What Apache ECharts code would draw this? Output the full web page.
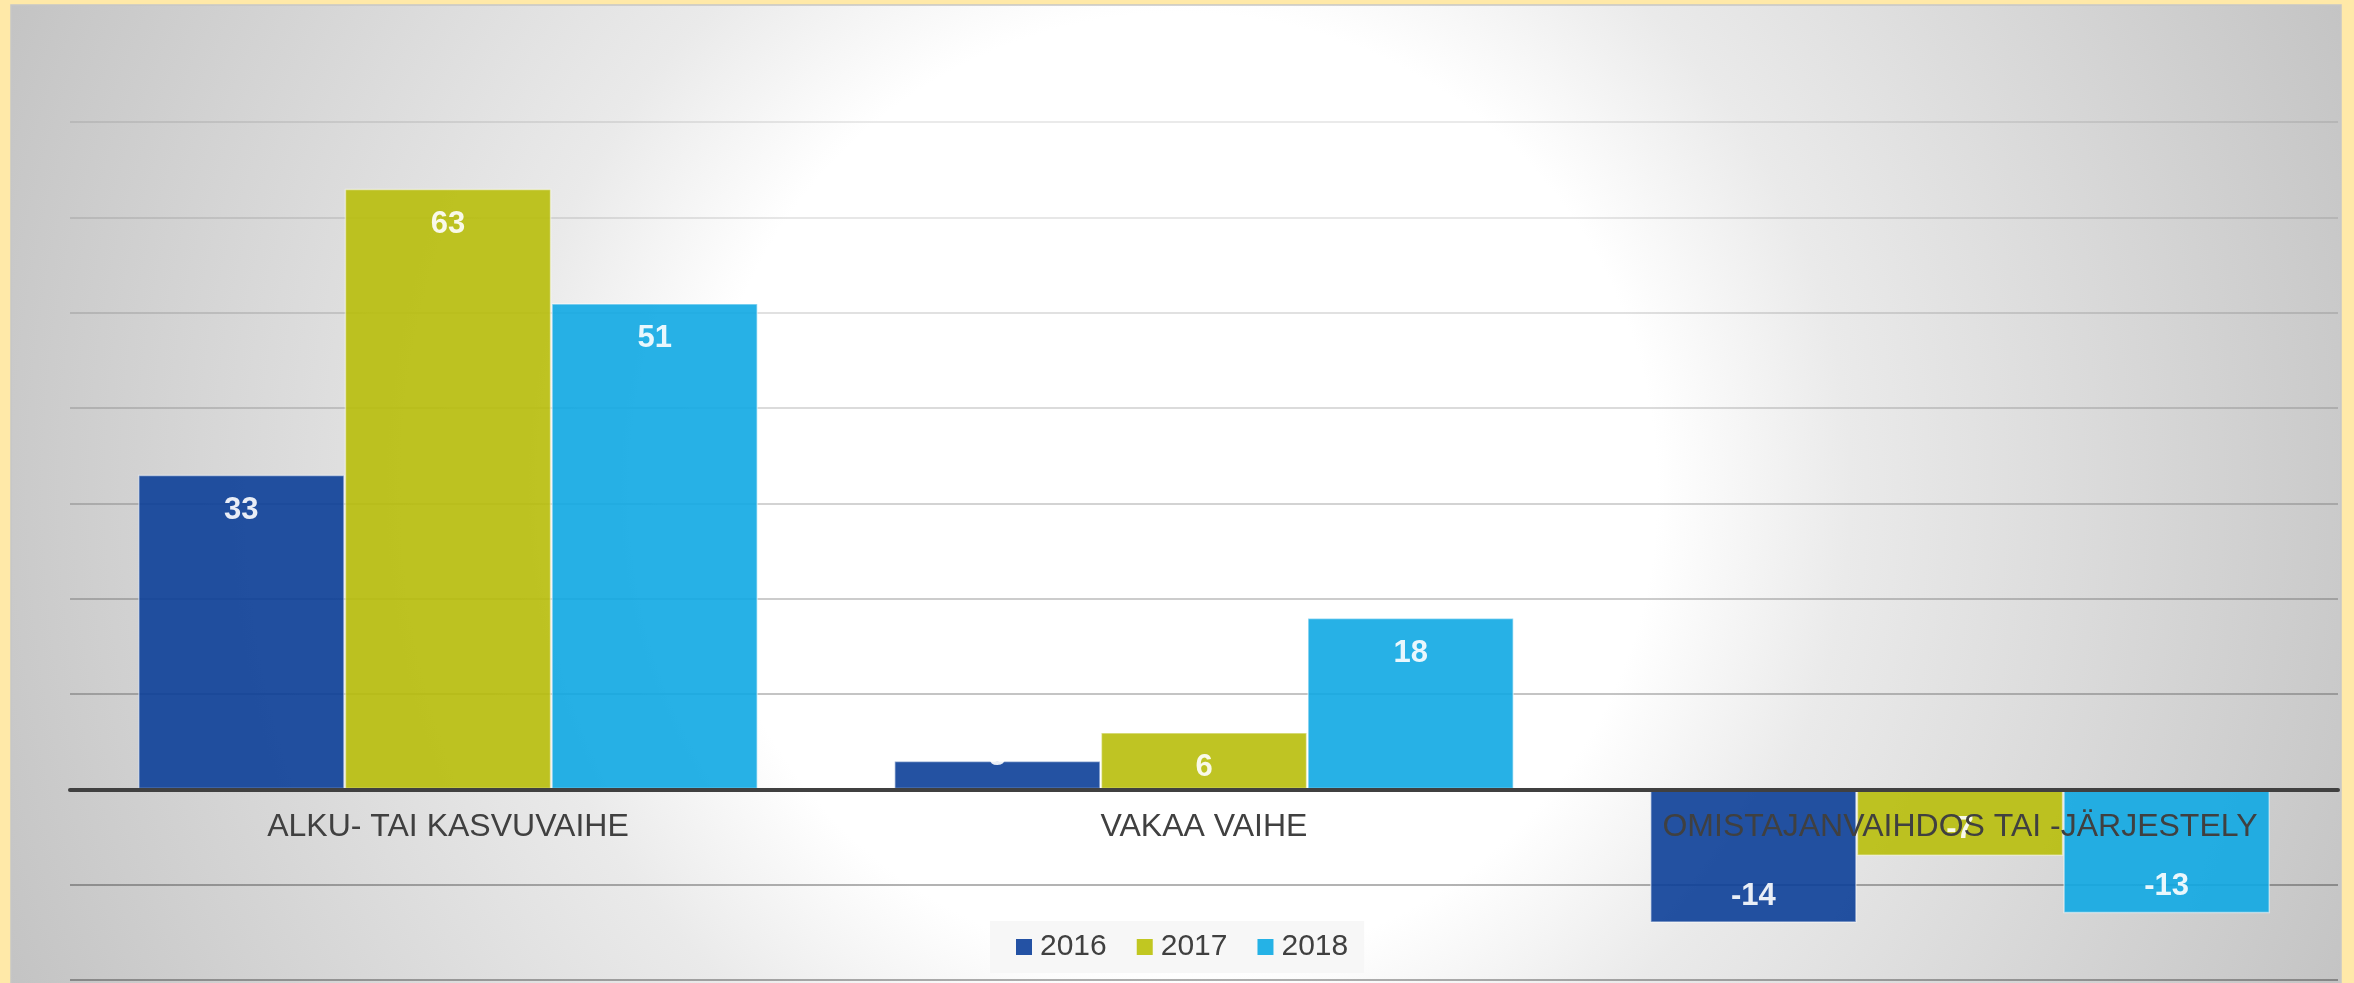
<!DOCTYPE html>
<html>
<head>
<meta charset="utf-8">
<style>
  html, body { margin: 0; padding: 0; background: #FFE9A8; }
  #chart { width: 2354px; height: 983px; }
</style>
<script src="https://cdn.jsdelivr.net/npm/echarts@6/dist/echarts.min.js"></script>
</head>
<body>
<div id="chart"></div>
<script>
const categories = ['ALKU- TAI KASVUVAIHE', 'VAKAA VAIHE', 'OMISTAJANVAIHDOS TAI -JÄRJESTELY'];
const seriesNames = ['2016', '2017', '2018'];
const values2016 = [33, 3, -14];
const values2017 = [63, 6, -7];
const values2018 = [51, 18, -13];
const yMin = -20, yMax = 70, yStep = 10;

const FONT = "'Liberation Sans', Arial, sans-serif";
const barBase = ['#0C3F98', '#B8BE0B', '#0FA8E3'];
const legendColors = ['#2452A4', '#C1C721', '#25B2E6'];
const gridAlphas = [0.42, 0.40, 0.36, 0.31, 0.27, 0.23, 0.19, 0.16, 0.13, 0.11];

const W = 2354, H = 983;
const gridTop = 122, gridBottom = 3, gridLeft = 70, gridRight = 16;
const gridHeight = H - gridTop - gridBottom;
// move the category axis from the grid bottom up to the value 0
const zeroOffset = -((0 - yMin) / (yMax - yMin)) * gridHeight;

function labelFor(v) {
  if (v < 0) return { position: 'insideBottom', distance: 11 };
  if (Math.abs(v) < 5) return { position: 'insideBottom', distance: 17 };
  return { position: 'insideTop', distance: 20 };
}

function makeSeries(name, values, idx) {
  return {
    name: name,
    type: 'bar',
    barGap: '0%',
    barCategoryGap: '18%',
    itemStyle: {
      color: barBase[idx],
      opacity: 0.9,
      borderColor: 'rgba(255,255,255,0.55)',
      borderWidth: 1.5
    },
    label: {
      show: true,
      color: '#ffffff',
      fontFamily: FONT,
      fontWeight: 'bold',
      fontSize: 31
    },
    data: values.map(v => ({ value: v, label: labelFor(v) }))
  };
}

const chart = echarts.init(document.getElementById('chart'), null, { renderer: 'canvas' });
chart.setOption({
  backgroundColor: '#FFE9A8',
  animation: false,
  graphic: [{
    type: 'rect',
    z: -10,
    silent: true,
    shape: { x: 11, y: 5, width: 2330, height: 990 },
    style: {
      fill: new echarts.graphic.RadialGradient(1180, 490, 1290, [
        { offset: 0, color: '#ffffff' },
        { offset: 0.37, color: '#ffffff' },
        { offset: 0.52, color: '#eaeaea' },
        { offset: 0.76, color: '#d6d6d6' },
        { offset: 1, color: '#c2c2c2' }
      ], true),
      stroke: '#c6c6c6',
      lineWidth: 1.5
    }
  }],
  grid: {
    left: gridLeft, right: gridRight, top: gridTop, bottom: gridBottom,
    containLabel: false,
    outerBoundsMode: 'none'
  },
  legend: {
    left: 990,
    top: 921,
    padding: [11, 16, 11, 26],
    backgroundColor: '#F7F7F7',
    itemGap: 30,
    itemWidth: 16,
    itemHeight: 16,
    icon: 'rect',
    textStyle: { color: '#404040', fontSize: 30, fontFamily: FONT, padding: [0, 0, 0, 3] },
    data: seriesNames.map((n, i) => ({ name: n, itemStyle: { color: legendColors[i], opacity: 1, borderWidth: 0 } }))
  },
  xAxis: {
    type: 'category',
    data: categories,
    z: 50,
    offset: zeroOffset,
    axisLine: { show: true, onZero: false, lineStyle: { color: '#404040', width: 4 } },
    axisTick: { show: false },
    axisLabel: { color: '#404040', fontSize: 32, fontFamily: FONT, margin: 22, interval: 0 },
    splitLine: { show: false }
  },
  yAxis: {
    type: 'value',
    min: yMin,
    max: yMax,
    interval: yStep,
    axisLine: { show: false },
    axisTick: { show: false },
    axisLabel: { show: false },
    splitLine: {
      show: true,
      lineStyle: { color: gridAlphas.map(a => 'rgba(0,0,0,' + a + ')'), width: 1.5 }
    }
  },
  series: [
    makeSeries(seriesNames[0], values2016, 0),
    makeSeries(seriesNames[1], values2017, 1),
    makeSeries(seriesNames[2], values2018, 2)
  ]
});
</script>
</body>
</html>
